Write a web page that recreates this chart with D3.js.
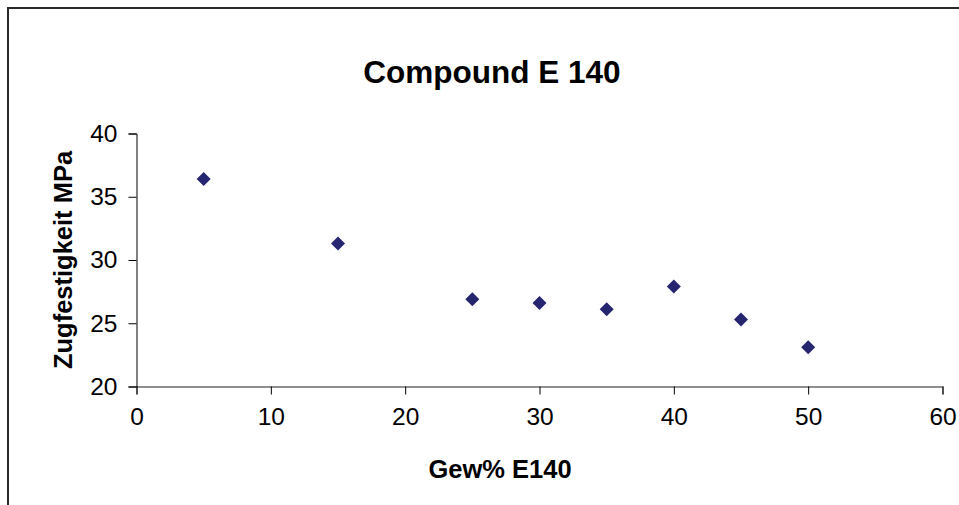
<!DOCTYPE html>
<html>
<head>
<meta charset="utf-8">
<script src="https://cdn.jsdelivr.net/npm/d3@7"></script>
<style>
  html, body { margin: 0; padding: 0; background: #fff; }
  svg { display: block; }
  text { font-family: "Liberation Sans", Arial, sans-serif; fill: #000; }
</style>
</head>
<body>
<svg id="chart" width="959" height="505"></svg>
<script>
const xValues = [5, 15, 25, 30, 35, 40, 45, 50];
const yValues = [36.4, 31.3, 26.9, 26.6, 26.1, 27.9, 25.3, 23.1];
const xTicks = [0, 10, 20, 30, 40, 50, 60];
const yTicks = [20, 25, 30, 35, 40];
const titleText = "Compound E 140";
const xTitle = "Gew% E140";
const yTitle = "Zugfestigkeit MPa";

const svg = d3.select("#chart");

// outer chart frame (extends beyond the right/bottom edges)
svg.append("rect")
  .attr("x", 8).attr("y", 8)
  .attr("width", 1000).attr("height", 600)
  .attr("fill", "none").attr("stroke", "#2a2a2a").attr("stroke-width", 2);

const x = d3.scaleLinear().domain([0, 60]).range([136.5, 942.5]);
const y = d3.scaleLinear().domain([20, 40]).range([386.5, 133.5]);

const font = "'Liberation Sans', Arial, sans-serif";

// x axis
const xAxis = svg.append("g")
  .attr("transform", `translate(0,${y(20)})`)
  .call(d3.axisBottom(x).tickValues(xTicks).tickSize(8).tickPadding(13).tickFormat(d3.format("d")));
xAxis.select(".domain").attr("stroke", "#6b6b6b").attr("stroke-width", 1.3);
xAxis.selectAll(".tick line").attr("stroke", "#000");
xAxis.selectAll(".tick text").attr("font-size", 24.5).attr("fill", "#000").attr("font-family", font);

// y axis
const yAxis = svg.append("g")
  .attr("transform", `translate(${x(0)},0)`)
  .call(d3.axisLeft(y).tickValues(yTicks).tickSize(8).tickPadding(11).tickFormat(d3.format("d")));
yAxis.select(".domain").attr("stroke", "#000");
yAxis.selectAll(".tick line").attr("stroke", "#000");
yAxis.selectAll(".tick text").attr("font-size", 24.5).attr("fill", "#000").attr("font-family", font);

// markers
const data = xValues.map((v, i) => ({ x: v, y: yValues[i] }));
svg.append("g").selectAll("path")
  .data(data).enter().append("path")
  .attr("transform", d => `translate(${x(d.x)},${y(d.y)})`)
  .attr("d", "M0,-7L7,0L0,7L-7,0Z")
  .attr("fill", "#262670");

// titles
svg.append("text")
  .attr("x", 492).attr("y", 83)
  .attr("text-anchor", "middle")
  .attr("font-size", 31.5).attr("font-weight", "bold")
  .text(titleText);

svg.append("text")
  .attr("x", 500).attr("y", 478)
  .attr("text-anchor", "middle")
  .attr("font-size", 25.5).attr("font-weight", "bold")
  .text(xTitle);

svg.append("text")
  .attr("transform", "translate(72,260) rotate(-90)")
  .attr("text-anchor", "middle")
  .attr("font-size", 25.5).attr("font-weight", "bold")
  .text(yTitle);
</script>
</body>
</html>
